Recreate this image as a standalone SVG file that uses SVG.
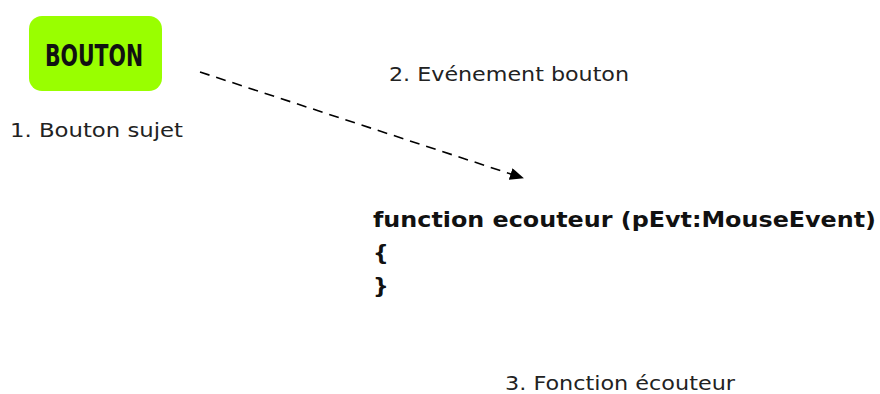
<svg xmlns="http://www.w3.org/2000/svg" width="880" height="394" viewBox="0 0 880 394">
<style>
.lbl{font-family:"DejaVu Sans",Verdana,sans-serif;font-size:20px;fill:#222}
.code{font-family:"DejaVu Sans",Verdana,sans-serif;font-size:22px;font-weight:bold;fill:#111}
.btn{font-family:"DejaVu Sans Condensed","DejaVu Sans",sans-serif;font-weight:bold;font-size:31px;fill:#111}
</style>
<defs>
<marker id="ah" markerWidth="14" markerHeight="12" refX="13" refY="6" orient="auto" markerUnits="userSpaceOnUse">
<path d="M0,0 L14,6 L0,12 z" fill="#000"/>
</marker>
</defs>
<rect width="880" height="394" fill="#fff"/>
<g id="bouton">
<rect x="29" y="16" width="133" height="75" rx="13" fill="#99ff00"/>
<text class="btn" x="45" y="66" textLength="98" lengthAdjust="spacingAndGlyphs">BOUTON</text>
<text class="lbl" x="10" y="137" textLength="173" lengthAdjust="spacingAndGlyphs">1. Bouton sujet</text>
</g>
<g id="connectors">
<line x1="200" y1="72" x2="523" y2="178" stroke="#000" stroke-width="1.6" stroke-dasharray="10,7" marker-end="url(#ah)"/>
<text class="lbl" x="389" y="81" textLength="240" lengthAdjust="spacingAndGlyphs">2. Evénement bouton</text>
</g>
<g id="ecouteur">
<text class="code" x="373" y="227" textLength="503" lengthAdjust="spacingAndGlyphs">function ecouteur (pEvt:MouseEvent)</text>
<text class="code" x="373" y="260">{</text>
<text class="code" x="373" y="293">}</text>
<text class="lbl" x="505" y="390" textLength="230" lengthAdjust="spacingAndGlyphs">3. Fonction écouteur</text>
</g>
</svg>
